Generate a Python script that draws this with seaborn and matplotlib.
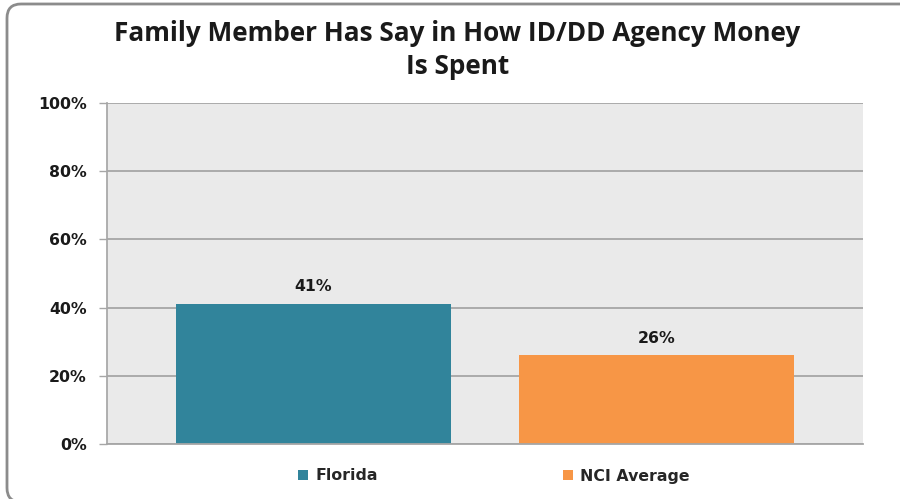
import matplotlib
matplotlib.use("Agg")
import matplotlib.pyplot as plt
from matplotlib.patches import FancyBboxPatch, Patch
import seaborn as sns
import pandas as pd

series = ["Florida", "NCI Average"]
values = [41, 26]
colors = ["#31849B", "#F79646"]
yticks = [0, 20, 40, 60, 80, 100]
title = "Family Member Has Say in How ID/DD Agency Money\nIs Spent"

df = pd.DataFrame({"series": series, "value": values})

sns.set_theme(style="white")
plt.rcParams["font.family"] = ["DejaVu Sans"]
label_font = {"family": "DejaVu Sans", "weight": "bold", "size": 11.3}

fig = plt.figure(figsize=(9.0, 4.99), dpi=100)
ax = fig.add_axes([107 / 900, 1 - 444 / 499, (863 - 107) / 900, (444 - 103) / 499])

sns.barplot(data=df, x="series", y="value", hue="series", palette=colors,
            width=0.8, dodge=False, legend=False, ax=ax, saturation=1, linewidth=0)

ax.set_facecolor("#EAEAEA")
ax.set_xlim(-0.6, 1.6)
ax.set_ylim(0, 100)
ax.set_yticks(yticks)
ax.set_yticklabels([f"{t}%" for t in yticks], fontdict=label_font, color="#1a1a1a")
ax.set_xticks([])
ax.set_xlabel("")
ax.set_ylabel("")
ax.yaxis.grid(True, color="#A6A6A6", linewidth=1.3)
ax.set_axisbelow(True)
ax.tick_params(axis="y", which="major", length=5.5, width=1, color="#A6A6A6", pad=9, left=True)
for side in ["top", "right"]:
    ax.spines[side].set_visible(False)
ax.spines["left"].set_color("#A6A6A6")
ax.spines["bottom"].set_color("#A6A6A6")
ax.spines["bottom"].set_linewidth(1.3)

for patch, v in zip(ax.patches, values):
    ax.annotate(f"{v}%", (patch.get_x() + patch.get_width() / 2, v),
                xytext=(0, 7), textcoords="offset points", ha="center", va="bottom",
                color="#1a1a1a", **label_font)

fig.text(0.508, 1 - 50 / 499, title, ha="center", va="center", fontsize=18.8,
         fontweight="bold", family=["Open Sans", "DejaVu Sans"], color="#1a1a1a",
         linespacing=1.3)

handles = [Patch(facecolor=c, edgecolor="none") for c in colors]
fig.legend(handles, series, loc="center", bbox_to_anchor=(494 / 900, 1 - 476 / 499), ncol=2,
           frameon=False, handlelength=0.6, handleheight=0.6, handletextpad=0.5,
           columnspacing=11.8, prop=label_font)

# Rounded frame around the whole chart, in pixel units; it runs past the
# right and bottom edges of the canvas
border = FancyBboxPatch((7, -3), 915, 498,
                        boxstyle="round,pad=0,rounding_size=14",
                        transform=None, facecolor="none",
                        edgecolor="#8C8C8C", linewidth=2, clip_on=False)
fig.patches.append(border)

fig.savefig("out.png", dpi=100)
